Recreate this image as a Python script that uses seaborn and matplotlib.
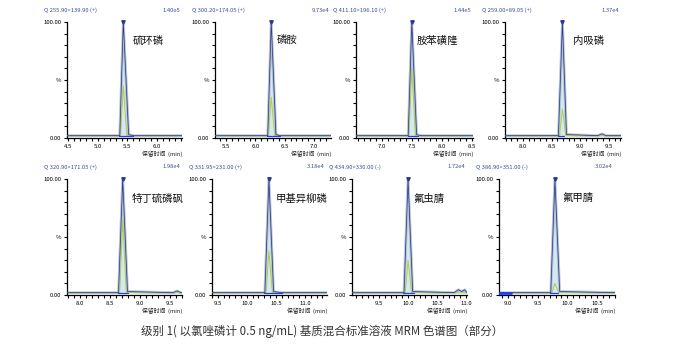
#!/usr/bin/env python3
"""
MRM chromatograms of a matrix-matched mixed standard (level 1),
eight compounds drawn as small panels in a 2x4 grid.
"""
import matplotlib
matplotlib.use("Agg")
import matplotlib.pyplot as plt
from matplotlib.ticker import MultipleLocator, FixedLocator, FixedFormatter
import pandas as pd
import seaborn as sns

# ---- data ----
names = ["硫环磷", "磷胺", "胺苯磺隆", "内吸磷",
         "特丁硫磷砜", "甲基异柳磷", "氟虫腈", "氟甲腈"]
transitions = ["Q 255.90>139.90 (+)", "Q 300.20>174.05 (+)",
               "Q 411.10>196.10 (+)", "Q 259.00>89.05 (+)",
               "Q 320.90>171.05 (+)", "Q 331.95>231.00 (+)",
               "Q 434.90>330.00 (-)", "Q 386.90>351.00 (-)"]
intensities = ["1.40e5", "9.73e4", "1.44e5", "1.37e4",
               "1.98e4", "3.18e4", "1.72e4", "3.02e4"]
x_min = [4.48, 5.31, 6.57, 7.69, 7.78, 9.40, 9.03, 8.85]
x_max = [6.42, 7.29, 8.52, 9.71, 9.70, 11.38, 11.02, 10.80]

# quantifier trace (blue): retention times (min) and relative response (%)
blue_t = [
    [4.48, 5.37, 5.43, 5.52, 5.60, 6.42],
    [5.31, 6.21, 6.27, 6.35, 6.42, 7.29],
    [6.57, 7.44, 7.50, 7.58, 7.65, 8.52],
    [7.69, 8.62, 8.69, 8.76, 9.30, 9.38, 9.45, 9.71],
    [7.78, 8.64, 8.71, 8.79, 9.55, 9.62, 9.68, 9.70],
    [9.40, 10.31, 10.38, 10.46, 10.60, 11.38],
    [9.03, 9.93, 10.00, 10.08, 10.80, 10.87, 10.93, 10.98, 11.02],
    [8.85, 9.72, 9.79, 9.87, 10.80],
]
blue_v = [
    [2, 2, 100, 3, 2, 2],
    [2, 2, 100, 3, 2, 2],
    [2, 2, 100, 3, 2, 2],
    [2, 2, 100, 3, 2, 3.5, 2, 2],
    [2, 2, 100, 3, 2, 3.5, 2, 2],
    [2, 2, 100, 3, 2, 2],
    [2, 2, 100, 3, 2, 4.5, 3, 4.5, 2],
    [2, 2, 100, 3, 2],
]
# qualifier trace (green): apex height (%)
green_peak = [45, 35, 60, 25, 65, 38, 30, 10]
# integration baseline (bright blue): start / end (min)
base_start = [5.36, 6.20, 7.43, 8.61, 8.63, 10.30, 9.92, 9.71]
base_end = [5.60, 6.42, 7.60, 8.72, 8.80, 10.60, 10.10, 9.85]

# ---- layout (pixels of the 675x351 reference) ----
W, H = 675, 351
rows_px = [(22, 138), (179, 295)]
cols_px = [[(67, 182), (215, 331), (356, 473), (505, 621)],
           [(67, 182), (212, 327), (352, 467), (499, 615)]]
label_pos = [(0.57, 0.84), (0.53, 0.85), (0.52, 0.84), (0.59, 0.84),
             (0.56, 0.83), (0.55, 0.83), (0.53, 0.83), (0.55, 0.84)]

sns.set_style("ticks")
plt.rcParams['font.family'] = ['Noto Sans CJK SC', 'DejaVu Sans']

fig = plt.figure(figsize=(6.75, 3.51), dpi=100)

navy = "#2c3a8c"
green = "#b3cd45"
fill_c = "#d3e8f0"
halo = "#a9b8c8"
head_c = "#3a4f9a"

for k in range(8):
    r, c = divmod(k, 4)
    top, bot = rows_px[r]
    x0, x1 = cols_px[r][c]
    ax = fig.add_axes([x0 / W, 1 - bot / H, (x1 - x0) / W, (bot - top) / H])

    rt = blue_t[k][2]
    blue = pd.DataFrame({"t": blue_t[k], "v": blue_v[k]})
    gt = [x_min[k], rt - 0.05, rt, rt + 0.06, x_max[k]]
    gv = [2, 2, green_peak[k], 2, 2]
    grn = pd.DataFrame({"t": gt, "v": gv})

    ax.fill_between(blue["t"], 1.5, blue["v"], color=fill_c, lw=0, zorder=1)
    ax.plot(blue["t"], blue["v"], color=halo, lw=2.0, alpha=0.8, zorder=2)
    sns.lineplot(data=grn, x="t", y="v", ax=ax, color=green, lw=0.7,
                 sort=False, zorder=3)
    sns.lineplot(data=blue, x="t", y="v", ax=ax, color=navy, lw=0.55,
                 sort=False, zorder=4)
    ax.plot([base_start[k], base_end[k]], [1.5, 1.5], color="#1f3cff",
            lw=0.9, zorder=5)
    ax.plot([rt], [100], marker="v", ms=2.5, color=navy, clip_on=False,
            zorder=6)
    if k == 7:
        ax.plot([8.85, 9.05], [2, 2], color="#1f3cff", lw=2, zorder=5)

    ax.set_xlim(x_min[k], x_max[k])
    ax.set_ylim(0, 100)
    ax.set_xlabel("")
    ax.set_ylabel("")
    sns.despine(ax=ax)
    for sp in ("left", "bottom"):
        ax.spines[sp].set_linewidth(0.9)
        ax.spines[sp].set_color("black")

    ax.xaxis.set_major_locator(MultipleLocator(0.5))
    ax.xaxis.set_minor_locator(MultipleLocator(0.1))
    ax.xaxis.set_major_formatter(plt.FormatStrFormatter("%.1f"))
    ax.yaxis.set_major_locator(FixedLocator([0, 50, 100]))
    ax.yaxis.set_major_formatter(FixedFormatter(["0.00", "%", "100.00"]))
    ax.yaxis.set_minor_locator(MultipleLocator(10))
    ax.tick_params(which="both", labelsize=4.3, width=0.8, pad=1.5,
                   colors="black")
    ax.tick_params(which="major", length=2.5)
    ax.tick_params(which="minor", length=2.0)

    ax.text(label_pos[k][0], label_pos[k][1], names[k],
            transform=ax.transAxes, fontsize=7.5, ha="left", va="center",
            color="#111111")
    ax.text(1.0, -0.14, "保留时间  (min)", transform=ax.transAxes,
            fontsize=4.2, ha="right", va="center", color="#222222")

    head_y = 1 - (top - 12) / H
    fig.text((x0 - 23) / W, head_y, transitions[k], fontsize=4.2,
             color=head_c, ha="left", va="center")
    fig.text((x1 - 2) / W, head_y, intensities[k], fontsize=4.2,
             color=head_c, ha="right", va="center")

fig.text(322 / W, 1 - 331 / H,
         "级别 1( 以氯唑磷计 0.5 ng/mL) 基质混合标准溶液 MRM 色谱图（部分）",
         fontsize=8.3, ha="center", va="center", color="#333333")

plt.savefig("out.png", dpi=100)
